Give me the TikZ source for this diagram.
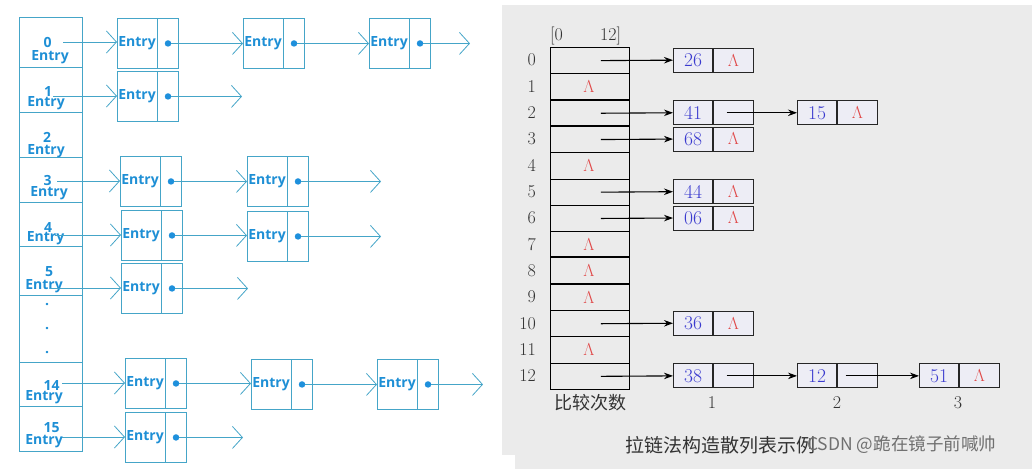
\documentclass[tikz,border=0pt]{standalone}
\usepackage{fontspec}
\usetikzlibrary{arrows.meta,calc}
\newfontfamily\entryfont{Open Sans}
\newfontfamily\cjk{Noto Sans CJK SC}
\definecolor{linec}{HTML}{45A5C8}
\definecolor{txtb}{HTML}{1E8FD5}
\definecolor{dotc}{HTML}{1E90DC}
\definecolor{bgg}{HTML}{EBEBEB}
\definecolor{nodef}{HTML}{EDEDF5}
\definecolor{valc}{HTML}{3A3ACF}
\definecolor{lamc}{HTML}{E04848}
\definecolor{wmc}{HTML}{707070}
\newcommand\ebox[3]{% name, left x, top y
  \node[ebx, anchor=north west] (#1) at (#2,#3) {};
  \draw[lc] ($(#1.north west)+(40,0)$) -- ($(#1.south west)+(40,0)$);
  \node[etx] (#1t) at ($(#1.west)+(20,0)$) {Entry};
  \node[dotn] (#1d) at ($(#1.west)+(51,0)$) {};
}
\begin{document}
\begin{tikzpicture}[x=1pt,y=-1pt,
  lc/.style={draw=linec, line width=0.9pt},
  cell/.style={draw=linec, line width=1pt, minimum width=63pt, inner sep=0pt, rectangle},
  ebx/.style={draw=linec, line width=0.9pt, minimum width=61pt, minimum height=50pt, inner sep=0pt, rectangle},
  etx/.style={text=txtb, font=\entryfont\bfseries\fontsize{14}{14}\selectfont, inner sep=0pt},
  ltx/.style={text=txtb, font=\entryfont\bfseries\fontsize{14}{14}\selectfont, inner sep=0pt},
  dotn/.style={circle, fill=dotc, minimum size=6.5pt, inner sep=0pt},
  lar/.style={draw=linec, line width=0.8pt, -{Straight Barb[length=10pt,width=22pt,line width=0.8pt]}},
  tcell/.style={draw=black, line width=0.9pt, minimum width=79pt, minimum height=26.31pt, inner sep=0pt, rectangle},
  idx/.style={font=\fontsize{18}{18}\selectfont, inner sep=0pt, text=black!80},
  vbox/.style={draw=black!85, line width=1pt, fill=nodef, minimum width=39pt, minimum height=24pt, inner sep=0pt, text=valc, font=\fontsize{19.5}{19.5}\selectfont},
  pbox/.style={draw=black!85, line width=1pt, fill=nodef, minimum width=40pt, minimum height=24pt, inner sep=0pt, text=lamc, font=\fontsize{16}{16}\selectfont},
  lam/.style={text=lamc, font=\fontsize{16}{16}\selectfont, inner sep=0pt},
  rar/.style={draw=black, line width=1.1pt, -{Stealth[length=9pt,width=6.5pt]}},
  thick/.style={draw=black, line width=2pt}
]
\useasboundingbox (0,0) rectangle (1032,469);
% ---------------- right panel background
\fill[bgg] (502,5) rectangle (1032,469);
\fill[white] (502,455) rectangle (515,469);

% ---------------- left panel column
\node[cell, minimum height=50pt, anchor=north west] (c0) at (19,17) {};
\node[cell, minimum height=45pt, anchor=north west] (c1) at (19,67) {};
\node[cell, minimum height=45pt, anchor=north west] (c2) at (19,112) {};
\node[cell, minimum height=45pt, anchor=north west] (c3) at (19,157) {};
\node[cell, minimum height=44pt, anchor=north west] (c4) at (19,202) {};
\node[cell, minimum height=49pt, anchor=north west] (c5) at (19,246) {};
\node[cell, minimum height=67pt, anchor=north west] (cd) at (19,295) {};
\node[cell, minimum height=44pt, anchor=north west] (c14) at (19,362) {};
\node[cell, minimum height=45pt, anchor=north west] (c15) at (19,406) {};

\node[ltx] (l0) at (47.5,42.5) {0};   \node[etx] (l0e) at (50,57) {Entry};
\node[ltx] (l1) at (48,91) {1};       \node[etx] (l1e) at (46,103) {Entry};
\node[ltx] (l2) at (47,137) {2};      \node[etx] (l2e) at (46,151) {Entry};
\node[ltx] (l3) at (47.5,180) {3};    \node[etx] (l3e) at (49,193) {Entry};
\node[ltx] (l4) at (48,227) {4};      \node[etx] (l4e) at (45.5,238) {Entry};
\node[ltx] (l5) at (49,272) {5};      \node[etx] (l5e) at (44,286) {Entry};
\node[ltx] (l14) at (51.5,385) {14};  \node[etx] (l14e) at (44,397.5) {Entry};
\node[ltx] (l15) at (51.5,428) {15};  \node[etx] (l15e) at (44,441) {Entry};
\node[ltx, anchor=base] (dA) at (47,305) {.};
\node[ltx, anchor=base] (dB) at (47,329) {.};
\node[ltx, anchor=base] (dC) at (47,353) {.};

% entry boxes
\ebox{a0}{117}{18}  \ebox{a1}{243}{18}  \ebox{a2}{369}{18}
\ebox{b0}{117}{71}
\ebox{d0}{120}{156} \ebox{d1}{247}{156}
\ebox{f0}{121}{210} \ebox{f1}{247}{211}
\ebox{g0}{121}{263}
\ebox{h0}{125}{358} \ebox{h1}{251}{359} \ebox{h2}{377}{359}
\ebox{k0}{125}{412}

% start coordinates and free ends
\coordinate (s0) at (63,42);
\coordinate (s1) at (53,96);
\coordinate (s3) at (57,181);
\coordinate (s4) at (55,235);
\coordinate (s5) at (50,288);
\coordinate (s14) at (62,383);
\coordinate (s15) at (62,437);
\coordinate (z0) at (470,0);
\coordinate (z1) at (242,0);
\coordinate (z3) at (381,0);
\coordinate (z5) at (248,0);
\coordinate (z14) at (483,0);
\coordinate (z15) at (243,0);

\draw[lar] (s0) -- (s0 -| a0.west);
\draw[lar] (a0d) -- (a0d -| a1.west);
\draw[lar] (a1d) -- (a1d -| a2.west);
\draw[lar] (a2d) -- (a2d -| z0);

\draw[lar] (s1) -- (s1 -| b0.west);
\draw[lar] (b0d) -- (b0d -| z1);

\draw[lar] (s3) -- (s3 -| d0.west);
\draw[lar] (d0d) -- (d0d -| d1.west);
\draw[lar] (d1d) -- (d1d -| z3);

\draw[lar] (s4) -- (s4 -| f0.west);
\draw[lar] (f0d) -- (f0d -| f1.west);
\draw[lar] (f1d) -- (f1d -| z3);

\draw[lar] (s5) -- (s5 -| g0.west);
\draw[lar] (g0d) -- (g0d -| z5);

\draw[lar] (s14) -- (s14 -| h0.west);
\draw[lar] (h0d) -- (h0d -| h1.west);
\draw[lar] (h1d) -- (h1d -| h2.west);
\draw[lar] (h2d) -- (h2d -| z14);

\draw[lar] (s15) -- (s15 -| k0.west);
\draw[lar] (k0d) -- (k0d -| z15);

% ---------------- right panel table
\foreach \i in {0,...,12}{
  \node[tcell, anchor=north west] (t\i) at (550,{47+26.31*\i}) {};
  \node[idx, anchor=east] (i\i) at (536,{47+26.31*\i+13.15}) {\i};
}
\draw[thick] (t2.north west) -- (t2.north east);
\draw[thick] (t3.north west) -- (t3.north east);
\draw[thick] (t8.north west) -- (t8.north east);
\draw[thick] (t9.north west) -- (t9.north east);
\foreach \i in {1,4,7,8,9,11}{
  \node[lam] at ($(t\i.center)+(-1,0)$) {$\Lambda$};
}
\node[idx, anchor=base west] (hdA) at (550,40) {[0};
\node[idx, anchor=base west] (hdB) at (600,40) {12]};

% value nodes
\node[vbox, anchor=west] (v0) at (673,{47+26.31*0.5}) {26};
\node[pbox, anchor=west] (p0) at (v0.east) {$\Lambda$};
\node[vbox, anchor=west] (v2) at (673,{47+26.31*2.5}) {41};
\node[pbox, anchor=west] (p2) at (v2.east) {};
\node[vbox, anchor=west] (v2b) at (797,{47+26.31*2.5}) {15};
\node[pbox, anchor=west] (p2b) at (v2b.east) {$\Lambda$};
\node[vbox, anchor=west] (v3) at (673,{47+26.31*3.5}) {68};
\node[pbox, anchor=west] (p3) at (v3.east) {$\Lambda$};
\node[vbox, anchor=west] (v5) at (673,{47+26.31*5.5}) {44};
\node[pbox, anchor=west] (p5) at (v5.east) {$\Lambda$};
\node[vbox, anchor=west] (v6) at (673,{47+26.31*6.5}) {06};
\node[pbox, anchor=west] (p6) at (v6.east) {$\Lambda$};
\node[vbox, anchor=west] (v10) at (673,{47+26.31*10.5}) {36};
\node[pbox, anchor=west] (p10) at (v10.east) {$\Lambda$};
\node[vbox, anchor=west] (v12) at (673,{47+26.31*12.5}) {38};
\node[pbox, anchor=west] (p12) at (v12.east) {};
\node[vbox, anchor=west] (v12b) at (797,{47+26.31*12.5}) {12};
\node[pbox, anchor=west] (p12b) at (v12b.east) {};
\node[vbox, anchor=west] (v12c) at (919,{47+26.31*12.5}) {51};
\node[pbox, anchor=west] (p12c) at (v12c.east) {$\Lambda$};

\foreach \i in {0,2,3,5,6,10,12}{
  \draw[rar] ($(t\i.center)+(11,0)$) -- (v\i.west);
}
\draw[rar] ($(p2.center)+(-7,0)$) -- (v2b.west);
\draw[rar] ($(p12.center)+(-7,0)$) -- (v12b.west);
\draw[rar] ($(p12b.center)+(-12,0)$) -- (v12c.west);

% bottom labels
\node[font=\cjk\fontsize{18}{18}\selectfont, text=black!80, inner sep=0pt] (cmp) at (590,403) {比较次数};
\node[idx] (n1) at (712,403) {1};
\node[idx] (n2) at (837,403) {2};
\node[idx] (n3) at (958,403) {3};
\node[font=\cjk\fontsize{19}{19}\selectfont, text=black!80, inner sep=0pt] (cap) at (720,445) {拉链法构造散列表示例};
\node[font=\cjk\fontsize{17.5}{17.5}\selectfont, text=wmc, inner sep=0pt, anchor=west] (wm) at (807,445) {CSDN @跪在镜子前喊帅};
\end{tikzpicture}
\end{document}
